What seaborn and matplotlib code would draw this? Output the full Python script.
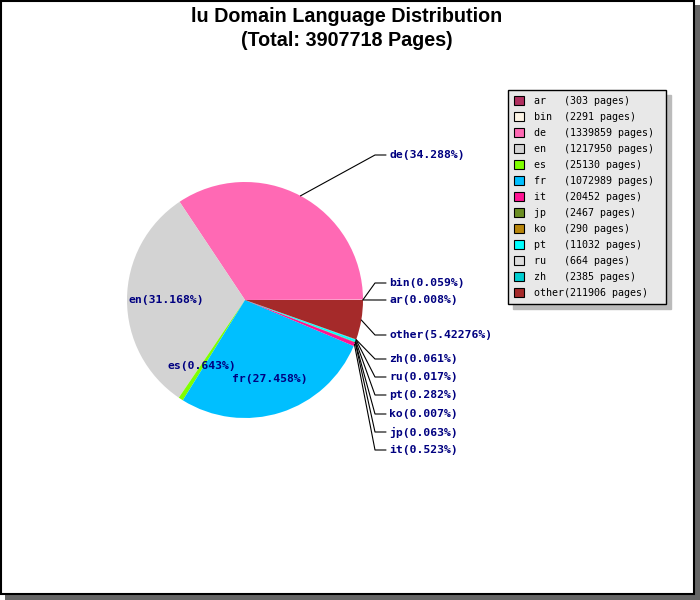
import matplotlib
matplotlib.use("Agg")
import matplotlib.pyplot as plt
import seaborn as sns
import numpy as np
from matplotlib.patches import Rectangle, Patch

# data
langs = ["ar", "bin", "de", "en", "es", "fr", "it", "jp", "ko", "pt", "ru", "zh", "other"]
pages = [303, 2291, 1339859, 1217950, 25130, 1072989, 20452, 2467, 290, 11032, 664, 2385, 211906]
pct_labels = ["0.008%", "0.059%", "34.288%", "31.168%", "0.643%", "27.458%", "0.523%",
              "0.063%", "0.007%", "0.282%", "0.017%", "0.061%", "5.42276%"]
colors = ["#b03060", "#fdf5e6", "#ff69b4", "#d3d3d3", "#7fff00", "#00bfff", "#ff1493",
          "#6b8e23", "#b8860b", "#00ffff", "#dcdcdc", "#00ced1", "#a52a2a"]

total = sum(pages)

sns.set_style("white")
plt.rcParams['font.family'] = ['DejaVu Sans Mono', 'DejaVu Sans']

W, H = 700, 600
fig = plt.figure(figsize=(7, 6), dpi=100)
fig.patch.set_facecolor("white")

# frame + drop shadow
fig.patches.append(Rectangle((5, 0), 695, 595, transform=None, facecolor="#666666",
                             edgecolor="none", zorder=-3))
fig.patches.append(Rectangle((0.5, 6), 693, 593.5, transform=None, facecolor="white",
                             edgecolor="black", linewidth=1.5, zorder=-2))

ax = fig.add_axes([0, 0, 1, 1])
ax.set_zorder(1)
ax.patch.set_alpha(0)

cx, cy, r = 245, 300, 118
wedges, _ = ax.pie(pages, colors=colors, startangle=0, counterclock=True,
                   center=(cx, cy), radius=r, wedgeprops=dict(linewidth=0))
ax.set_xlim(0, W)
ax.set_ylim(0, H)
ax.set_aspect("auto")
ax.axis("off")

lab_font = dict(family="DejaVu Sans Mono", weight="bold", size=8.2, color="#000080")

inner = {"en": 0.67, "es": 0.67, "fr": 0.7}
outer_y = {"de": 155, "bin": 283, "ar": 300, "other": 335, "zh": 359, "ru": 377,
           "pt": 395, "ko": 414, "jp": 432, "it": 450}

for w, name, pl in zip(wedges, langs, pct_labels):
    mid = np.deg2rad((w.theta1 + w.theta2) / 2)
    txt = f"{name}({pl})"
    if name in inner:
        f = inner[name]
        x = cx + f * r * np.cos(mid)
        y = cy + f * r * np.sin(mid)
        ax.text(x, y, txt, ha="center", va="center", zorder=5, **lab_font)
    else:
        ex = cx + r * np.cos(mid)
        ey = cy + r * np.sin(mid)
        ly = H - outer_y[name]
        ax.plot([ex, 375, 386], [ey, ly, ly], color="black", linewidth=0.8, zorder=4)
        ax.text(389, ly, txt, ha="left", va="center", zorder=5, **lab_font)

fig.text(347 / W, 1 - 16 / H, "lu Domain Language Distribution", color="black",
         family="Liberation Sans", weight="bold", size=14.2, ha="center", va="center")
fig.text(347 / W, 1 - 41 / H, "(Total: 3907718 Pages)", color="black",
         family="Liberation Sans", weight="bold", size=14.2, ha="center", va="center")

handles = [Patch(facecolor=c, edgecolor="black", linewidth=0.8) for c in colors]
leg_labels = [f"{n:<5}({p} pages) " for n, p in zip(langs, pages)]
leg = fig.legend(handles, leg_labels, loc="upper left",
                 bbox_to_anchor=(508 / W, 1 - 90 / H), bbox_transform=fig.transFigure,
                 borderaxespad=0, prop=dict(family="DejaVu Sans Mono", size=7.2),
                 handlelength=1.0, handleheight=1.0, handletextpad=1.0,
                 labelspacing=0.6, borderpad=0.6, fancybox=False,
                 facecolor="#e8e8e8", edgecolor="black", framealpha=1,
                 shadow={"ox": 3.5, "oy": -3.5, "color": "#bbbbbb", "alpha": 1})
leg.set_zorder(6)
leg.get_frame().set_linewidth(1)
for t in leg.get_texts():
    t.set_color("black")

fig.savefig("out.png", dpi=100)
